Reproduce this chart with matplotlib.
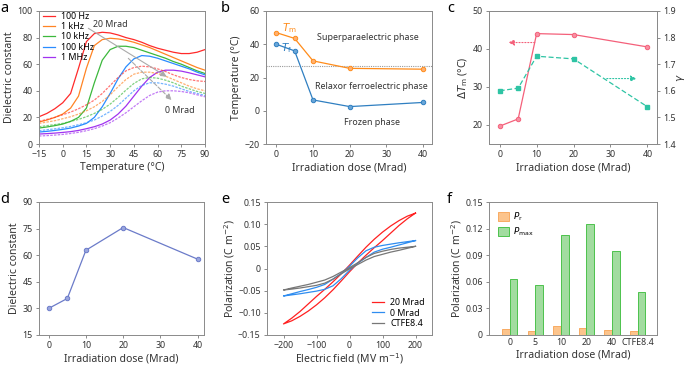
import matplotlib
matplotlib.use('Agg')
import matplotlib.pyplot as plt
import numpy as np

plt.rcParams['font.family'] = ['Noto Sans', 'DejaVu Sans']
plt.rcParams['mathtext.fontset'] = 'dejavusans'
plt.rcParams['axes.unicode_minus'] = True

# ---- panel a: dielectric constant vs temperature ----
temp_a = [-15, -10, -5, 0, 5, 10, 15, 20, 25, 30, 35, 40, 45, 50, 55, 60, 65, 70, 75, 80, 85, 90]
freq_labels = ['100 Hz', '1 kHz', '10 kHz', '100 kHz', '1 MHz']
eps_20mrad = {
    '100 Hz':  [20.5, 23, 26.5, 31, 38, 57, 77, 83, 84, 83.5, 82, 80, 78.5, 76.5, 74, 72, 70.5, 69, 68, 68, 69, 71],
    '1 kHz':   [16.5, 18, 20, 22.5, 27, 36, 57, 74, 78.5, 79.5, 79, 78, 76.5, 74.5, 72.5, 70, 67.5, 65, 62.5, 60, 57.5, 55.5],
    '10 kHz':  [12, 12.8, 13.8, 15, 17, 20, 27, 46, 63, 71, 73.5, 73.5, 72.5, 70.5, 68.5, 66.5, 64.5, 62, 60, 57.5, 55, 53],
    '100 kHz': [9, 9.5, 10.2, 11, 12, 13.5, 15.5, 20, 28, 38, 49, 58, 64, 66.5, 66, 64.5, 62.5, 60.5, 58.5, 56.5, 54, 52],
    '1 MHz':   [7.5, 7.8, 8.2, 8.7, 9.3, 10.2, 11.5, 13, 15, 18, 22.5, 28.5, 36, 43.5, 50, 54, 55.5, 55.5, 54.8, 53.5, 52, 50.5],
}
eps_0mrad = {
    '100 Hz':  [17, 18.5, 20, 22, 24, 26.5, 29.5, 33, 38, 44, 50, 55, 57.5, 58.5, 58, 56.5, 54.5, 52, 50, 48.5, 47.5, 47],
    '1 kHz':   [15.5, 16.5, 17.5, 19, 20.5, 22.5, 25, 28, 32, 37, 43, 48.5, 52.5, 54, 54, 53, 51, 48.5, 46, 43.5, 41.5, 40],
    '10 kHz':  [13, 13.8, 14.6, 15.5, 17, 18.5, 20.5, 23, 26, 30, 35, 40.5, 45.5, 49, 50, 49.5, 48, 46, 43.5, 41.5, 39.5, 38],
    '100 kHz': [10, 10.7, 11.4, 12.2, 13.2, 14.5, 16, 18, 21, 24.5, 29, 34.5, 40, 44, 46, 46, 45, 43.5, 41.5, 39.5, 38, 36.5],
    '1 MHz':   [6, 6.3, 6.7, 7.2, 7.9, 8.8, 10, 11.5, 13.5, 16, 19.5, 23.5, 28, 32.5, 36.5, 39, 40, 40, 39.5, 38.5, 37, 35.5],
}

# ---- panel b / c / d ----
dose = [0, 5, 10, 20, 40]
t_m = [47, 43.5, 30, 25.5, 25]
t_f = [40, 36, 6.5, 2.5, 5]
delta_tm = [19.7, 21.6, 44.05, 43.8, 40.55]
gamma = [1.60, 1.61, 1.73, 1.72, 1.54]
eps_d = [30, 35.6, 62.8, 75.6, 57.75]

# ---- panel e: P-E loops ----
field_down = [200, 175, 150, 125, 100, 75, 50, 25, 0, -25, -50, -75, -100, -125, -150, -175, -200]
field_up = [-200, -175, -150, -125, -100, -75, -50, -25, 0, 25, 50, 75, 100, 125, 150, 175, 200]
loop_labels = ['20 Mrad', '0 Mrad', 'CTFE8.4']
pol_down = {
    '20 Mrad': [0.125, 0.118, 0.108, 0.096, 0.082, 0.066, 0.048, 0.028, 0.0075, -0.012, -0.030, -0.047, -0.063, -0.080, -0.097, -0.112, -0.125],
    '0 Mrad':  [0.063, 0.0605, 0.058, 0.055, 0.052, 0.048, 0.040, 0.024, 0.005, -0.011, -0.024, -0.036, -0.0425, -0.0475, -0.052, -0.057, -0.062],
    'CTFE8.4': [0.050, 0.048, 0.046, 0.043, 0.039, 0.034, 0.025, 0.013, 0.002, -0.008, -0.018, -0.026, -0.031, -0.036, -0.040, -0.044, -0.0485],
}
pol_up = {
    '20 Mrad': [-0.125, -0.118, -0.108, -0.096, -0.082, -0.066, -0.048, -0.028, -0.0075, 0.012, 0.030, 0.047, 0.063, 0.080, 0.097, 0.112, 0.125],
    '0 Mrad':  [-0.062, -0.0595, -0.057, -0.054, -0.051, -0.047, -0.039, -0.023, -0.004, 0.012, 0.025, 0.037, 0.0435, 0.048, 0.053, 0.058, 0.063],
    'CTFE8.4': [-0.0485, -0.0465, -0.044, -0.041, -0.038, -0.033, -0.024, -0.012, -0.001, 0.009, 0.019, 0.027, 0.032, 0.037, 0.041, 0.0455, 0.050],
}

# ---- panel f: bars ----
samples_f = ['0', '5', '10', '20', '40', 'CTFE8.4']
p_r = [0.0068, 0.0049, 0.0102, 0.0083, 0.0057, 0.0045]
p_max = [0.0626, 0.0565, 0.1123, 0.1251, 0.0942, 0.049]

freq_colors = ['#ff2a2a', '#ff8424', '#3cb83c', '#2a8cff', '#a133f0']
loop_colors = ['#ff2020', '#2f8df0', '#777777']

LW, LH = 6.4, 7.5
TXT = '#333333'
W, H = 685, 366


def make_ax(fig, l, r, t, b):
    ax = fig.add_axes([l / W, (H - b) / H, (r - l) / W, (b - t) / H])
    style(ax)
    return ax


def style(ax):
    for s in ax.spines.values():
        s.set_color('#8a8a8a')
        s.set_linewidth(0.7)
    ax.tick_params(direction='out', length=2.5, width=0.6, color='#777777',
                   labelcolor=TXT, labelsize=LW, pad=2)


def arrow(ax, start, end, color, ls):
    ax.annotate('', xy=end, xytext=start,
                arrowprops=dict(arrowstyle='-|>,head_length=0.35,head_width=0.17',
                                color=color, lw=0.8, ls=ls, shrinkA=0, shrinkB=0))


fig = plt.figure(figsize=(6.85, 3.66), dpi=100)

# panel a
ax = make_ax(fig, 39, 205, 11, 144)
for lab, c in zip(freq_labels, freq_colors):
    ax.plot(temp_a, eps_20mrad[lab], color=c, lw=0.9, label=lab)
for lab, c in zip(freq_labels, freq_colors):
    ax.plot(temp_a, eps_0mrad[lab], color=c, lw=0.9, ls=(0, (2, 1)), alpha=0.65)
arrow(ax, (16.2, 87), (65.8, 50.6), '#aaaaaa', '-')
arrow(ax, (41.5, 64.4), (68.9, 33), '#aaaaaa', '--')
ax.text(19, 89.5, '20 Mrad', fontsize=LW, color=TXT, va='center')
ax.text(65, 25.5, '0 Mrad', fontsize=LW, color=TXT, va='center')
ax.set_xlim(-15, 90)
ax.set_ylim(0, 100)
ax.set_xticks([-15, 0, 15, 30, 45, 60, 75, 90])
ax.set_yticks([0, 20, 40, 60, 80, 100])
ax.set_xlabel('Temperature (°C)', fontsize=LH, labelpad=2, color=TXT)
ax.set_ylabel('Dielectric constant', fontsize=LH, labelpad=2, color=TXT)
ax.legend(loc='upper left', bbox_to_anchor=(-0.01, 1.035), frameon=False, fontsize=LW,
          handlelength=1.4, handletextpad=0.7, labelspacing=0.15, borderaxespad=0.2)

# panel b
ax = make_ax(fig, 266, 432, 11, 144)
ax.axhline(27, color='#999999', lw=0.8, ls=(0, (1, 1)))
ax.plot(dose, t_m, color='#ff8c1a', lw=0.9, marker='o', ms=3.2, mfc='#ffb070', mec='#ff8c1a', mew=0.7)
ax.plot(dose, t_f, color='#2f7fc1', lw=0.9, marker='o', ms=3.2, mfc='#6aa6d8', mec='#2f7fc1', mew=0.7)
ax.text(1.6, 49.5, r'$\mathit{T}_\mathrm{m}$', color='#ff8c1a', fontsize=LH, va='center')
ax.text(1.2, 37.5, r'$\mathit{T}_\mathrm{f}$', color='#2f7fc1', fontsize=LH, va='center')
ax.text(25, 44, 'Superparaelectric phase', fontsize=LW, ha='center', va='center', color=TXT)
ax.text(26, 14.8, 'Relaxor ferroelectric phase', fontsize=LW, ha='center', va='center', color=TXT)
ax.text(26, -7.2, 'Frozen phase', fontsize=LW, ha='center', va='center', color=TXT)
ax.set_xlim(-2.8, 42.4)
ax.set_ylim(-20, 60)
ax.set_xticks([0, 10, 20, 30, 40])
ax.set_yticks([-20, 0, 20, 40, 60])
ax.set_xlabel('Irradiation dose (Mrad)', fontsize=LH, labelpad=2, color=TXT)
ax.set_ylabel('Temperature (°C)', fontsize=LH, labelpad=2, color=TXT)

# panel c
ax = make_ax(fig, 489, 657, 11, 144)
ax.plot(dose, delta_tm, color='#f4607a', lw=0.9, marker='o', ms=3.2, mfc='#f890a2', mec='#f4607a', mew=0.7)
arrow(ax, (9.5, 41.7), (2.3, 41.7), '#f4607a', ':')
ax.set_xlim(-2.9, 42.6)
ax.set_ylim(15, 50)
ax.set_xticks([0, 10, 20, 30, 40])
ax.set_yticks([20, 30, 40, 50])
ax.set_xlabel('Irradiation dose (Mrad)', fontsize=LH, labelpad=2, color=TXT)
ax.set_ylabel(r'$\Delta\mathit{T}_\mathrm{m}$ (°C)', fontsize=LH, labelpad=2, color=TXT)
ax2 = ax.twinx()
style(ax2)
ax2.plot(dose, gamma, color='#2ec4a4', lw=0.9, ls=(0, (4, 2)), marker='s', ms=3.2, mfc='#2ec4a4', mec='#2ec4a4')
arrow(ax2, (29, 1.646), (37.1, 1.646), '#2ec4a4', ':')
ax2.set_ylim(1.4, 1.9)
ax2.set_yticks([1.4, 1.5, 1.6, 1.7, 1.8, 1.9])
ax2.set_ylabel(r'$\mathit{\gamma}$', fontsize=LH, color=TXT, va='center')
ax2.yaxis.set_label_coords(1.14, 0.5)

# panel d
ax = make_ax(fig, 39, 204, 202, 335)
ax.plot(dose, eps_d, color='#6b7bc9', lw=0.9, marker='o', ms=3.2, mfc='#9aa6de', mec='#6b7bc9', mew=0.7)
ax.set_xlim(-2.6, 41.7)
ax.set_ylim(15, 90)
ax.set_xticks([0, 10, 20, 30, 40])
ax.set_yticks([15, 30, 45, 60, 75, 90])
ax.set_xlabel('Irradiation dose (Mrad)', fontsize=LH, labelpad=2, color=TXT)
ax.set_ylabel('Dielectric constant', fontsize=LH, labelpad=2, color=TXT)

# panel e
ax = make_ax(fig, 267, 432, 202, 335)
for lab, c in zip(loop_labels, loop_colors):
    ax.plot(field_down + field_up, pol_down[lab] + pol_up[lab], color=c, lw=0.9, label=lab)
ax.set_xlim(-250, 250)
ax.set_ylim(-0.15, 0.15)
ax.set_xticks([-200, -100, 0, 100, 200])
ax.set_yticks([-0.15, -0.10, -0.05, 0, 0.05, 0.10, 0.15])
ax.set_yticklabels(['\u22120.15', '\u22120.10', '\u22120.05', '0', '0.05', '0.10', '0.15'])
ax.set_xlabel(r'Electric field (MV m$^{-1}$)', fontsize=LH, labelpad=0.5, color=TXT)
ax.set_ylabel(r'Polarization (C m$^{-2}$)', fontsize=LH, labelpad=1, color=TXT)
ax.legend(loc='lower right', frameon=False, fontsize=LW, handlelength=1.4,
          handletextpad=0.7, labelspacing=0.15, borderaxespad=0.4)

# panel f
ax = make_ax(fig, 489, 657, 202, 335)
x = np.arange(len(samples_f))
ax.bar(x - 0.15, p_r, width=0.3, color='#fcc48c', edgecolor='#f8ab62', lw=0.7, label=r'$\mathit{P}_\mathrm{r}$')
ax.bar(x + 0.15, p_max, width=0.3, color='#a2dca0', edgecolor='#4cc24c', lw=0.7, label=r'$\mathit{P}_\mathrm{max}$')
ax.set_xlim(-0.81, 5.76)
ax.set_ylim(0, 0.15)
ax.set_xticks(x)
ax.set_xticklabels(samples_f)
ax.tick_params(axis='x', length=0)
ax.set_yticks([0, 0.03, 0.06, 0.09, 0.12, 0.15])
ax.set_yticklabels(['0', '0.03', '0.06', '0.09', '0.12', '0.15'])
ax.set_xlabel('Irradiation dose (Mrad)', fontsize=LH, labelpad=2, color=TXT)
ax.set_ylabel(r'Polarization (C m$^{-2}$)', fontsize=LH, labelpad=1, color=TXT)
ax.legend(loc='upper left', frameon=False, fontsize=LW, handlelength=1.2, handleheight=1.2,
          handletextpad=0.5, labelspacing=0.2, borderaxespad=0.6)

# panel letters
for lab, px, py in [('a', 0, 1), ('b', 221, 1), ('c', 447, 1), ('d', 0, 192), ('e', 221, 192), ('f', 447, 192)]:
    fig.text(px / W, 1 - py / H, lab, fontsize=10.5, fontweight='bold', va='top', ha='left')

fig.savefig('out.png', dpi=100)
